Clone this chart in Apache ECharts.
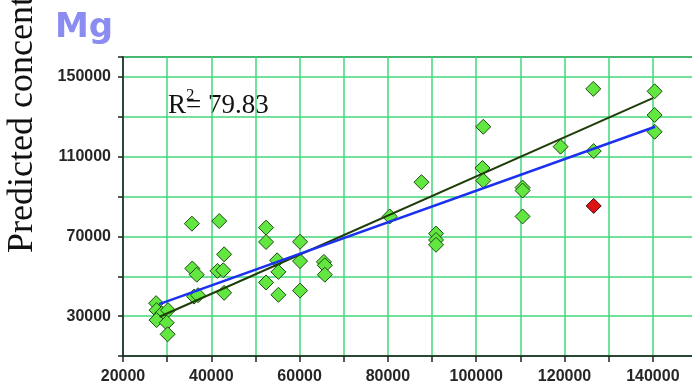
<!DOCTYPE html>
<html>
<head>
<meta charset="utf-8">
<script src="https://cdn.jsdelivr.net/npm/echarts@6/dist/echarts.min.js"></script>
<style>html,body{margin:0;padding:0;background:#fff}#c{width:692px;height:389px}</style>
</head>
<body>
<div id="c"></div>
<script>
// Measured concentration (x) vs predicted concentration (y), Mg
const measuredX = [27500, 27600, 28800, 30200, 27600, 29900, 30100,
  35600, 41800, 42900, 35700, 36700, 41400, 42700, 36100, 37000, 42900,
  52400, 52400, 60100, 54900, 60100, 55200, 65500, 65700, 65700, 52400, 55200, 60100,
  80400, 87600, 90900, 90900, 90900, 101600, 101400, 101600, 110500, 110500, 110500,
  119100, 126500, 126600, 140400, 140400, 140400];
const predictedY = [36500, 33000, 31300, 33000, 28000, 26700, 20900,
  76400, 77700, 61000, 53900, 50800, 52700, 53000, 39800, 40500, 41700,
  74400, 67200, 67300, 58000, 57600, 52200, 57200, 55500, 50800, 46900, 40700, 42800,
  80000, 97200, 71400, 68200, 65800, 125000, 104300, 98000, 94500, 93000, 80000,
  115000, 144000, 112800, 142800, 130900, 122500];
const outlierX = [126600];
const outlierY = [85300];
// fitted lines (endpoints)
const fitGreenX = [28300, 140000];
const fitGreenY = [29700, 139400];
const fitBlueX = [28200, 140500];
const fitBlueY = [36000, 125000];
const xTickLabels = [20000, 40000, 60000, 80000, 100000, 120000, 140000];
const yTickLabels = [30000, 70000, 110000, 150000];
const titleText = 'Mg';
const yAxisTitle = 'Predicted concentration';
const r2Value = '79.83';

const zip = (a, b) => a.map((v, i) => [v, b[i]]);

const chart = echarts.init(document.getElementById('c'), null, {renderer: 'canvas'});
const gridColor = '#40d878';
const labelFont = {color: '#262626', fontFamily: 'Liberation Sans', fontSize: 16, fontWeight: 'bold'};
chart.setOption({
  animation: false,
  backgroundColor: '#ffffff',
  title: {
    text: titleText,
    left: 55, top: 11, padding: 0,
    textStyle: {fontFamily: 'DejaVu Sans', fontWeight: 'bold', fontSize: 34, color: '#8a8cf2'}
  },
  grid: {left: 123, top: 57, right: -5, bottom: 33, outerBoundsMode: 'none', containLabel: false,
    show: true, borderColor: '#222', borderWidth: 1.5},
  xAxis: {
    type: 'value', min: 20000, max: 150000, interval: 10000,
    axisLine: {show: true, onZero: false, lineStyle: {color: '#222', width: 1.5}},
    axisTick: {show: true, length: 6, lineStyle: {color: '#222', width: 1.5}},
    splitLine: {show: true, lineStyle: {color: gridColor, width: 1.5}},
    axisLabel: Object.assign({
      margin: 13,
      formatter: v => xTickLabels.includes(v) ? String(v) : ''
    }, labelFont)
  },
  yAxis: {
    type: 'value', min: 10000, max: 160000, interval: 20000,
    axisLine: {show: true, onZero: false, lineStyle: {color: '#222', width: 1.5}},
    axisTick: {show: true, length: 5, lineStyle: {color: '#222', width: 1.5}},
    splitLine: {show: true, lineStyle: {color: gridColor, width: 1.5}},
    axisLabel: Object.assign({
      margin: 12,
      formatter: v => yTickLabels.includes(v) ? String(v) : ''
    }, labelFont)
  },
  graphic: [
    {
      type: 'text', x: 23, y: 253, rotation: Math.PI / 2,
      style: {text: yAxisTitle, font: '36px "Liberation Serif"', fill: '#111', align: 'left', verticalAlign: 'middle'}
    },
    {
      type: 'text', left: 168, top: 82,
      style: {
        text: '{a|R}{b|2}{a|= ' + r2Value + '}',
        rich: {
          a: {fontFamily: 'Liberation Serif', fontSize: 27, lineHeight: 27, padding: [10, 0, 0, 0], fill: '#111'},
          b: {fontFamily: 'Liberation Serif', fontSize: 17, lineHeight: 17, verticalAlign: 'top', width: 0, fill: '#111'}
        }
      }
    }
  ],
  series: [
    {
      type: 'scatter', data: zip(measuredX, predictedY), symbol: 'diamond', symbolSize: 15, z: 2,
      itemStyle: {color: '#62e640', borderColor: '#1e4a14', borderWidth: 1, opacity: 1}
    },
    {
      type: 'scatter', data: zip(outlierX, outlierY), symbol: 'diamond', symbolSize: 15, z: 2,
      itemStyle: {color: '#e01212', borderColor: '#3a0a0a', borderWidth: 1, opacity: 1}
    },
    {
      type: 'line', data: zip(fitGreenX, fitGreenY), showSymbol: false, symbol: 'none', z: 3,
      lineStyle: {color: '#1f3d08', width: 2}
    },
    {
      type: 'line', data: zip(fitBlueX, fitBlueY), showSymbol: false, symbol: 'none', z: 4,
      lineStyle: {color: '#1c30f0', width: 2.5}
    }
  ]
});
</script>
</body>
</html>
